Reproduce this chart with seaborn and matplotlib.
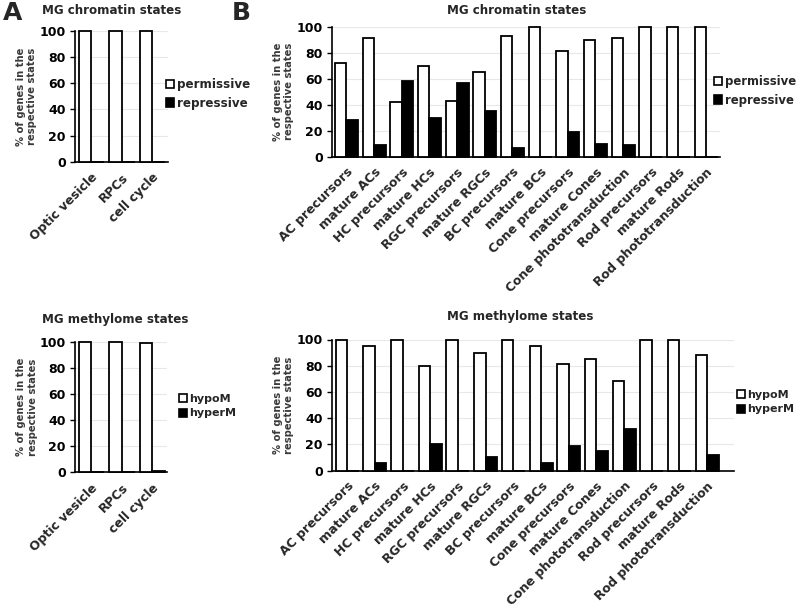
import seaborn as sns
import matplotlib.pyplot as plt
import pandas as pd
from matplotlib.patches import Patch

# categories
early_cells = ['Optic vesicle', 'RPCs', 'cell cycle']
late_cells = ['AC precursors', 'mature ACs', 'HC precursors', 'mature HCs',
              'RGC precursors', 'mature RGCs', 'BC precursors', 'mature BCs',
              'Cone precursors', 'mature Cones', 'Cone phototransduction',
              'Rod precursors', 'mature Rods', 'Rod phototransduction']

# chromatin states (%)
chrom_early_perm = [100, 100, 100]
chrom_early_rep = [0, 0, 0]
chrom_late_perm = [72, 91, 42, 70, 43, 65, 93, 100, 81, 90, 91, 100, 100, 100]
chrom_late_rep = [28, 9, 58, 30, 57, 35, 7, 0, 19, 10, 9, 0, 0, 0]

# methylome states (%)
meth_early_hypo = [100, 100, 99]
meth_early_hyper = [0, 0, 1]
meth_late_hypo = [100, 95, 100, 80, 100, 90, 100, 95, 81, 85, 68, 100, 100, 88]
meth_late_hyper = [0, 6, 0, 20, 0, 10, 0, 6, 19, 15, 32, 0, 0, 12]

yticks = [0, 20, 40, 60, 80, 100]

sns.set_style('white')
plt.rcParams['font.family'] = ['DejaVu Sans']
plt.rcParams['font.weight'] = 'bold'

fig = plt.figure(figsize=(8, 6.07), dpi=100)


def make_df(cells, a, b, names):
    return pd.DataFrame({
        'cell': cells * 2,
        'pct': a + b,
        'state': [names[0]] * len(cells) + [names[1]] * len(cells),
    })


def panel(rect, cells, a, b, names, xlim, title_xy, legend_xy, legend_size):
    ax = fig.add_axes(rect)
    df = make_df(cells, a, b, names)
    sns.barplot(data=df, x='cell', y='pct', hue='state', hue_order=names,
                palette={names[0]: 'white', names[1]: 'black'},
                edgecolor='black', linewidth=1.3, width=0.83, legend=False,
                ax=ax, zorder=3)
    for p in ax.patches:
        p.set_clip_on(False)
    ax.set_ylim(0, 100)
    ax.set_xlim(*xlim)
    ax.set_yticks(yticks)
    ax.yaxis.grid(True, color='#e8e8e8', linewidth=0.8, zorder=0)
    ax.xaxis.grid(False)
    ax.set_axisbelow(True)
    for s in ['top', 'right']:
        ax.spines[s].set_visible(False)
    for s in ['left', 'bottom']:
        ax.spines[s].set_color('black')
        ax.spines[s].set_linewidth(1.2)
    ax.tick_params(axis='y', length=3.5, width=1, direction='out', pad=3,
                   labelsize=9, colors='black', left=True)
    ax.tick_params(axis='x', length=0, pad=6.5, labelsize=9.0)
    for lab in ax.get_yticklabels():
        lab.set_fontweight('bold')
    for lab in ax.get_xticklabels():
        lab.set_rotation(45)
        lab.set_ha('right')
        lab.set_rotation_mode('anchor')
        lab.set_fontweight('bold')
    ax.set_xlabel('')
    ax.set_ylabel('% of genes in the\nrespective states', fontsize=7.2,
                  fontweight='bold', color='#3a3a3a', linespacing=1.2)
    w_px = rect[2] * 800
    ax.yaxis.set_label_coords(-37.5 / w_px, 0.5)
    fig.text(title_xy[0], title_xy[1], title_xy[2], ha='center', va='center',
             fontsize=8.6, fontweight='bold')
    handles = [Patch(facecolor='white', edgecolor='black', linewidth=1.2),
               Patch(facecolor='black', edgecolor='black', linewidth=1.2)]
    fig.legend(handles, names, loc='center left', bbox_to_anchor=legend_xy,
               frameon=False, fontsize=legend_size, handlelength=0.7,
               handleheight=0.7, handletextpad=0.25, labelspacing=0.45,
               borderpad=0, borderaxespad=0)
    return ax


# A, chromatin
panel([75 / 800, 1 - 161.7 / 607, 93 / 800, 130.7 / 607], early_cells,
      chrom_early_perm, chrom_early_rep, ['permissive', 'repressive'],
      (-0.54, 2.51), (112 / 800, 1 - 11 / 607, 'MG chromatin states'),
      (166 / 800, 1 - 94 / 607), 8.6)
# B, chromatin
panel([332 / 800, 1 - 156.7 / 607, 388 / 800, 130 / 607], late_cells,
      chrom_late_perm, chrom_late_rep, ['permissive', 'repressive'],
      (-0.52, 13.5), (517 / 800, 1 - 11 / 607, 'MG chromatin states'),
      (714 / 800, 1 - 91 / 607), 8.4)
# A, methylome
panel([75 / 800, 1 - 472.3 / 607, 92 / 800, 130.6 / 607], early_cells,
      meth_early_hypo, meth_early_hyper, ['hypoM', 'hyperM'],
      (-0.54, 2.48), (115 / 800, 1 - 320 / 607, 'MG methylome states'),
      (179 / 800, 1 - 406 / 607), 8.0)
# B, methylome
panel([332 / 800, 1 - 470.5 / 607, 402 / 800, 131 / 607], late_cells,
      meth_late_hypo, meth_late_hyper, ['hypoM', 'hyperM'],
      (-0.55, 13.97), (520 / 800, 1 - 317 / 607, 'MG methylome states'),
      (737 / 800, 1 - 402 / 607), 8.0)

fig.text(0.003, 1 - 13.5 / 607, 'A', fontsize=18, fontweight='bold', va='center')
fig.text(232 / 800, 1 - 13.5 / 607, 'B', fontsize=18, fontweight='bold', va='center')

plt.savefig('out.png', dpi=100)
